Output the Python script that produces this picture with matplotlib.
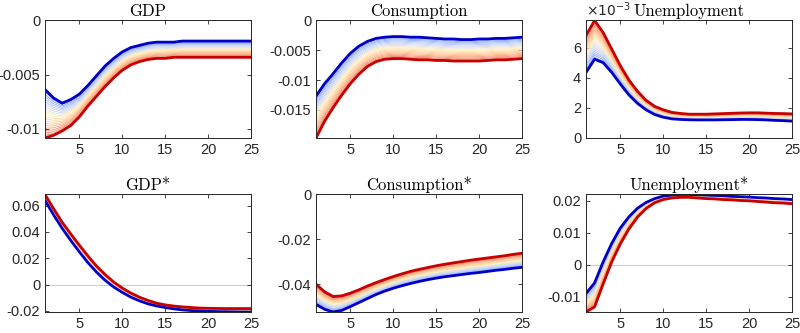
import numpy as np
import matplotlib
matplotlib.use('Agg')
import matplotlib.pyplot as plt
from matplotlib.colors import LinearSegmentedColormap
from matplotlib.ticker import MultipleLocator, FuncFormatter

horizon = np.arange(1, 26)

# impulse responses at the two ends of the parameter range (x = 1..25)
gdp_lo = [-0.00637, -0.00716, -0.00763, -0.0073, -0.0068, -0.0060, -0.0051, -0.0042, -0.0035, -0.0029,
          -0.0025, -0.0023, -0.0021, -0.0020, -0.0020, -0.0020, -0.0019, -0.0019, -0.0019, -0.0019,
          -0.0019, -0.0019, -0.0019, -0.0019, -0.0019]
gdp_hi = [-0.01085, -0.0106, -0.0102, -0.0097, -0.0089, -0.0079, -0.0070, -0.0061, -0.0053, -0.0046,
          -0.0041, -0.0038, -0.0036, -0.0035, -0.0035, -0.0034, -0.0034, -0.0034, -0.0034, -0.0034,
          -0.0034, -0.0034, -0.0034, -0.0034, -0.0034]
cons_lo = [-0.01267, -0.0106, -0.0089, -0.0071, -0.0055, -0.0043, -0.0035, -0.0030, -0.0028, -0.0027,
           -0.0027, -0.0028, -0.0028, -0.0029, -0.0030, -0.0031, -0.0031, -0.0032, -0.0032, -0.0031,
           -0.0031, -0.0030, -0.0030, -0.0029, -0.0028]
cons_hi = [-0.0197, -0.0169, -0.0146, -0.0125, -0.0106, -0.0090, -0.0077, -0.0069, -0.0065, -0.0064,
           -0.0064, -0.0065, -0.0066, -0.0066, -0.0067, -0.0067, -0.0068, -0.0068, -0.0068, -0.0068,
           -0.0067, -0.0066, -0.0066, -0.0065, -0.0064]
unemp_lo = [0.00435, 0.00523, 0.0050, 0.00435, 0.00358, 0.00286, 0.0023, 0.00187, 0.00156, 0.00138,
            0.00127, 0.00123, 0.00121, 0.0012, 0.0012, 0.0012, 0.00121, 0.00122, 0.00123, 0.00123,
            0.00122, 0.0012, 0.00117, 0.00115, 0.00112]
unemp_hi = [0.0068, 0.0078, 0.0070, 0.0059, 0.0048, 0.00385, 0.0031, 0.0025, 0.0021, 0.00187,
            0.0017, 0.00163, 0.00158, 0.00158, 0.00158, 0.0016, 0.00162, 0.00164, 0.00166, 0.00167,
            0.00167, 0.00165, 0.00163, 0.00162, 0.0016]
gdps_lo = [0.064, 0.053, 0.0428, 0.0336, 0.0249, 0.0167, 0.0095, 0.0033, -0.0018, -0.0059,
           -0.0095, -0.0123, -0.0146, -0.0162, -0.0174, -0.0184, -0.0192, -0.0197, -0.0200, -0.0203,
           -0.0205, -0.0206, -0.0207, -0.0208, -0.0208]
gdps_hi = [0.0685, 0.0577, 0.0474, 0.0385, 0.0300, 0.0218, 0.0141, 0.0077, 0.0020, -0.0026,
           -0.0064, -0.0095, -0.0120, -0.0141, -0.0154, -0.0163, -0.0169, -0.0174, -0.0178, -0.0180,
           -0.0181, -0.0182, -0.0182, -0.0182, -0.0182]
conss_lo = [-0.0490, -0.0512, -0.0524, -0.0517, -0.0500, -0.0482, -0.0464, -0.0446, -0.0431, -0.0418,
            -0.0407, -0.0397, -0.0388, -0.0380, -0.0373, -0.0367, -0.0362, -0.0357, -0.0352, -0.0348,
            -0.0343, -0.0338, -0.0334, -0.0329, -0.0325]
conss_hi = [-0.0400, -0.0434, -0.0455, -0.0452, -0.0440, -0.0425, -0.0408, -0.0393, -0.0379, -0.0366,
            -0.0354, -0.0343, -0.0334, -0.0326, -0.0318, -0.0311, -0.0305, -0.0299, -0.0293, -0.0288,
            -0.0283, -0.0278, -0.0273, -0.0267, -0.0262]
unemps_lo = [-0.0090, -0.0057, 0.0009, 0.0067, 0.0115, 0.0150, 0.0177, 0.0195, 0.0207, 0.0215,
             0.0218, 0.0220, 0.0220, 0.0219, 0.0218, 0.0217, 0.0216, 0.0214, 0.0213, 0.0212,
             0.0210, 0.0209, 0.0207, 0.0206, 0.0204]
unemps_hi = [-0.0148, -0.0132, -0.0060, 0.0009, 0.0065, 0.0112, 0.0149, 0.0176, 0.0194, 0.0204,
             0.0209, 0.0211, 0.0211, 0.0209, 0.0207, 0.0206, 0.0204, 0.0203, 0.0201, 0.0200,
             0.0198, 0.0196, 0.0194, 0.0193, 0.0191]

titles = ['GDP', 'Consumption', 'Unemployment', 'GDP*', 'Consumption*', 'Unemployment*']
lows = [gdp_lo, cons_lo, unemp_lo, gdps_lo, conss_lo, unemps_lo]
highs = [gdp_hi, cons_hi, unemp_hi, gdps_hi, conss_hi, unemps_hi]
ystep = [0.005, 0.005, 0.002, 0.02, 0.02, 0.01]

n_mid = 19
mix = np.linspace(0, 1, n_mid + 2)[1:-1]
cmap = LinearSegmentedColormap.from_list(
    'bw_r', ['#7f9cff', '#c3d1ff', '#fff0c0', '#ffc08c', '#ee7565'])

ink = '#262626'
plt.rcParams['font.family'] = ['Liberation Sans', 'DejaVu Sans']
plt.rcParams['font.size'] = 10


def fmt(v, pos):
    if abs(v) < 1e-12:
        return '0'
    return f'{round(v, 6):g}'


fig = plt.figure(figsize=(8, 3.33), dpi=100)
lefts = [0.05625, 0.395, 0.7325]
bottoms = [0.5856, 0.0631]
w, h = 0.2575, 0.3529

for k in range(6):
    r, c = divmod(k, 3)
    ax = fig.add_axes([lefts[c], bottoms[r], w, h])
    lo = np.array(lows[k])
    hi = np.array(highs[k])
    ax.axhline(0, color='#cfcfcf', lw=0.8, zorder=0)
    for i, m in enumerate(mix):
        ax.plot(horizon, (1 - m) * lo + m * hi, color=cmap(i / (n_mid - 1)), lw=0.65)
    ax.plot(horizon, lo, color='#0000c8', lw=2.0)
    ax.plot(horizon, hi, color='#c80000', lw=2.0)

    ymin = min(0, lo.min(), hi.min())
    ymax = max(0, lo.max(), hi.max())
    ax.set_xlim(1, 25)
    ax.set_ylim(ymin, ymax)
    ax.xaxis.set_major_locator(MultipleLocator(5))
    ax.yaxis.set_major_locator(MultipleLocator(ystep[k]))
    if titles[k] == 'Unemployment':
        ax.yaxis.set_major_formatter(FuncFormatter(lambda v, p: f'{v * 1e3:g}'))
        ax.text(0, 1.015, r'$\times10^{-3}$', transform=ax.transAxes,
                ha='left', va='bottom', color=ink, fontsize=10)
    else:
        ax.yaxis.set_major_formatter(FuncFormatter(fmt))
    ax.tick_params(direction='in', top=True, right=True, length=3, width=0.6,
                   colors=ink, labelsize=10.5)
    for s in ax.spines.values():
        s.set_color(ink)
        s.set_linewidth(0.7)
    ax.set_title(titles[k], fontfamily='cmr10', fontsize=12, color='black', pad=3)

fig.savefig('out.png', dpi=100)
